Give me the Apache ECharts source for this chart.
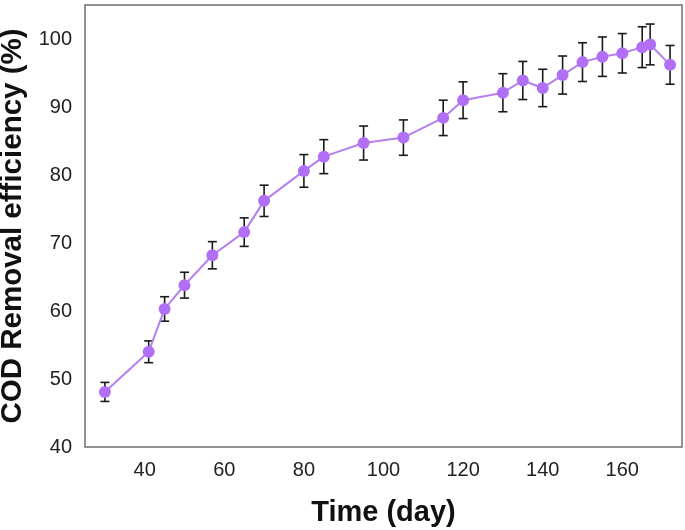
<!DOCTYPE html>
<html>
<head>
<meta charset="utf-8">
<script src="https://cdn.jsdelivr.net/npm/echarts@6/dist/echarts.min.js"></script>
<style>html,body{margin:0;padding:0;background:#fff}#c{width:685px;height:530px}</style>
</head>
<body>
<div id="c"></div>
<script>
const days = [30, 41, 45, 50, 57, 65, 70, 80, 85, 95, 105, 115, 120, 130, 135, 140, 145, 150, 155, 160, 165, 167, 172];
const efficiency = [48.1, 54.0, 60.3, 63.8, 68.2, 71.6, 76.2, 80.6, 82.7, 84.7, 85.5, 88.4, 91.0, 92.1, 93.9, 92.8, 94.7, 96.6, 97.4, 97.9, 98.8, 99.2, 96.2];
const errorSD = [1.4, 1.6, 1.8, 1.9, 2.0, 2.1, 2.3, 2.4, 2.5, 2.5, 2.6, 2.6, 2.7, 2.8, 2.8, 2.75, 2.8, 2.85, 2.9, 2.9, 3.0, 3.0, 2.85];
const xTicks = [40, 60, 80, 100, 120, 140, 160];
const yTicks = [40, 50, 60, 70, 80, 90, 100];

const lineData = days.map((d, i) => [d, efficiency[i]]);
const errData = days.map((d, i) => [d, efficiency[i] - errorSD[i], efficiency[i] + errorSD[i]]);

const chart = echarts.init(document.getElementById('c'));
const font = 'Liberation Sans, Arial, sans-serif';
chart.setOption({
  animation: false,
  grid: { left: 85, right: 3, top: 5, bottom: 83, outerBoundsMode: 'none', containLabel: false,
          show: true, borderColor: '#6f6f6f', borderWidth: 1.5, backgroundColor: 'transparent' },
  xAxis: {
    type: 'value', min: 25, max: 175,
    name: 'Time (day)', nameLocation: 'middle', nameGap: 51,
    nameTextStyle: { fontFamily: font, fontWeight: 'bold', fontSize: 29, color: '#111' },
    axisLine: { show: false }, axisTick: { show: false }, splitLine: { show: false },
    axisLabel: { customValues: xTicks, fontFamily: font, fontSize: 20, color: '#222', margin: 13 }
  },
  yAxis: {
    type: 'value', min: 40, max: 105,
    name: 'COD Removal efficiency (%)', nameLocation: 'middle', nameGap: 48, nameRotate: 90,
    nameTextStyle: { fontFamily: font, fontWeight: 'bold', fontSize: 29.5, color: '#111' },
    axisLine: { show: false }, axisTick: { show: false }, splitLine: { show: false },
    axisLabel: { customValues: yTicks, fontFamily: font, fontSize: 20, color: '#222', margin: 13 }
  },
  series: [
    {
      type: 'custom',
      data: errData,
      z: 3,
      renderItem: function (params, api) {
        const x = api.value(0);
        const lo = api.coord([x, api.value(1)]);
        const hi = api.coord([x, api.value(2)]);
        const w = 4.5;
        const style = { stroke: '#1a1a1a', lineWidth: 1.6 };
        return {
          type: 'group',
          children: [
            { type: 'line', shape: { x1: lo[0], y1: lo[1], x2: hi[0], y2: hi[1] }, style: style },
            { type: 'line', shape: { x1: hi[0] - w, y1: hi[1], x2: hi[0] + w, y2: hi[1] }, style: style },
            { type: 'line', shape: { x1: lo[0] - w, y1: lo[1], x2: lo[0] + w, y2: lo[1] }, style: style }
          ]
        };
      }
    },
    {
      type: 'line',
      data: lineData,
      z: 4,
      symbol: 'circle', symbolSize: 12,
      lineStyle: { color: '#b47ff0', width: 2 },
      itemStyle: { color: '#b06ff5' }
    }
  ]
});
</script>
</body>
</html>
